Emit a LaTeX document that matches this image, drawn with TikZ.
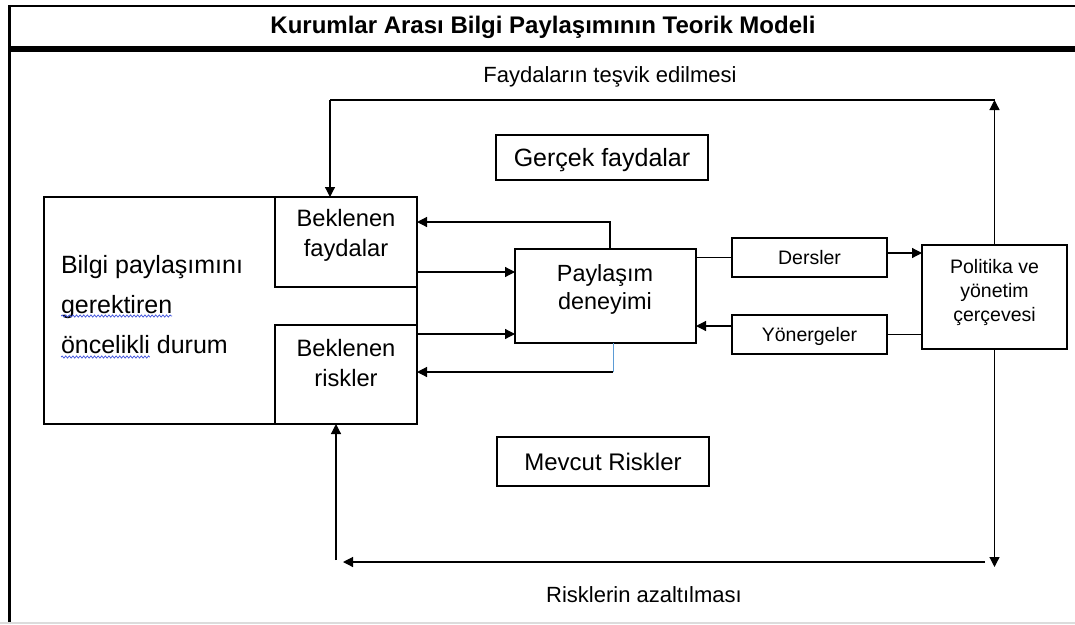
\documentclass[tikz,border=0pt]{standalone}
\usepackage{fontspec}
\setmainfont{Liberation Sans}
\usetikzlibrary{arrows.meta,decorations.pathmorphing}

\definecolor{lineblue}{RGB}{91,155,213}
\definecolor{spellblue}{RGB}{60,80,220}
\definecolor{bandgray}{RGB}{220,220,220}

\newcommand{\titlefont}{\bfseries\fontsize{24}{28}\selectfont}
\newcommand{\capfont}{\fontsize{22}{26}\selectfont}
\newcommand{\leftfont}{\fontsize{25}{40}\selectfont}
\newcommand{\boxfont}{\fontsize{23.7}{30}\selectfont}
\newcommand{\expfont}{\fontsize{23.4}{28}\selectfont}
\newcommand{\smallfont}{\fontsize{19.5}{24}\selectfont}
\newcommand{\gffont}{\fontsize{25}{30}\selectfont}
\newcommand{\mrfont}{\fontsize{24}{30}\selectfont}

\begin{document}
\begin{tikzpicture}[x=1pt, y=-1pt,
  box/.style={draw=black, line width=1.2pt, rectangle, inner sep=0pt, outer sep=0pt},
  wire/.style={line width=1.2pt},
  arr/.style={line width=1.2pt, -{Triangle[length=10pt,width=10pt]}},
  txt/.style={inner sep=0pt, outer sep=0pt, align=center, text=black},
  wavy/.style={draw=spellblue, line width=0.7pt, decorate,
    decoration={snake, amplitude=1.1pt, segment length=3.6pt}}]

\useasboundingbox (0,0) rectangle (1075,624);

% frame and title band
\draw[line width=2pt] (8,6) -- (1075,6);
\draw[line width=3pt] (9,5) -- (9,624);
\draw[line width=6pt] (8,48.5) -- (1075,48.5);
\draw[line width=2pt, draw=bandgray] (0,623) -- (1075,623);

\node[txt, font=\titlefont, anchor=base] (title) at (543,33)
  {Kurumlar Arası Bilgi Paylaşımının Teorik Modeli};

% boxes
\node[box, minimum width=373pt, minimum height=227pt] (big) at (230.5,310.5) {};
\node[box, minimum width=142pt, minimum height=90pt] (bf) at (346,242) {};
\node[box, minimum width=142pt, minimum height=99pt] (br) at (346,374.5) {};
\node[box, minimum width=212pt, minimum height=45pt, font=\gffont,
  text height=18pt, text depth=0pt] (gf) at (602,157.5) {Gerçek faydalar};
\node[box, minimum width=212pt, minimum height=49pt, font=\mrfont,
  text height=17.2pt, text depth=0pt] (mr) at (603,461.5) {Mevcut Riskler};
\node[box, minimum width=181pt, minimum height=94pt] (pd) at (605.5,296) {};
\node[box, minimum width=155pt, minimum height=39pt, font=\smallfont,
  text height=14pt, text depth=0pt] (de) at (809.5,257.5) {Dersler};
\node[box, minimum width=155pt, minimum height=39pt, font=\smallfont,
  text height=14pt, text depth=0pt] (yo) at (809.5,334.5) {Yönergeler};
\node[box, minimum width=145pt, minimum height=104pt] (po) at (994.5,297) {};

% box texts (multi-line nodes sit on the baseline of their last line)
\node[txt, font=\leftfont, anchor=base west] (s1) at (61,273) {Bilgi paylaşımını};
\node[txt, font=\leftfont, anchor=base west] (s2) at (61,313) {gerektiren};
\node[txt, font=\leftfont, anchor=base west] (s3) at (61,353) {öncelikli};
\node[txt, font=\leftfont, anchor=base west] (s3b) at (s3.base east) {\ durum};
\node[txt, font=\boxfont, anchor=base] (bft) at (346,256) {Beklenen\\faydalar};
\node[txt, font=\boxfont, anchor=base] (brt) at (346,386) {Beklenen\\riskler};
\node[txt, font=\expfont, anchor=base] (pdt) at (605,309) {Paylaşım\\deneyimi};
\node[txt, font=\smallfont, anchor=base] (pot) at (994.5,321) {Politika ve\\yönetim\\çerçevesi};

% spell-check underlines
\draw[wavy] ([yshift=-3pt]s2.base west) -- ([yshift=-3pt]s2.base east);
\draw[wavy] ([yshift=-4pt]s3.base west) -- ([yshift=-4pt]s3.base east);

% loop labels
\node[txt, font=\capfont, anchor=base] (uplbl) at (610,82) {Faydaların teşvik edilmesi};
\node[txt, font=\capfont, anchor=base] (downlbl) at (644,602) {Risklerin azaltılması};

% upper feedback loop
\coordinate (tl) at (330,100);
\coordinate (tr) at (po.north |- tl);
\draw[arr] (po.north) -- (tr);
\draw[wire] (tr) -- (tl);
\draw[arr] (tl) -- (tl |- bf.north);

% expected benefits / risks <-> sharing experience
\draw[arr] ([xshift=4.5pt]pd.north) |- ([yshift=20pt]bf.east);
\coordinate (a1) at ([yshift=-30pt]bf.east);
\draw[arr] (a1) -- (a1 -| pd.west);
\coordinate (a2) at ([yshift=40.5pt]br.east);
\draw[arr] (a2) -- (a2 -| pd.west);
\coordinate (a3) at ([xshift=7.5pt]pd.south);
\coordinate (a4) at ([yshift=2.5pt]br.east);
\draw[line width=0.9pt, draw=lineblue] (a3) -- (a3 |- a4);
\draw[arr] (a3 |- a4) -- (a4);

% sharing experience <-> policy framework
\draw[wire] (de.west -| pd.east) -- (de.west);
\coordinate (a5) at ([yshift=4.5pt]de.east);
\draw[arr] (a5) -- (a5 -| po.west);
\draw[wire] (yo.east -| po.west) -- (yo.east);
\coordinate (a6) at ([yshift=8.5pt]yo.west);
\draw[arr] (a6) -- (a6 -| pd.east);

% lower feedback loop
\coordinate (bl) at (0,567);
\draw[arr] (po.south) -- (po.south |- bl);
\coordinate (hb1) at (985,562);
\coordinate (hb2) at (343,562);
\draw[arr] (hb1) -- (hb2);
\coordinate (ub) at (336,560);
\draw[arr] (ub) -- (ub |- br.south);

\end{tikzpicture}
\end{document}
